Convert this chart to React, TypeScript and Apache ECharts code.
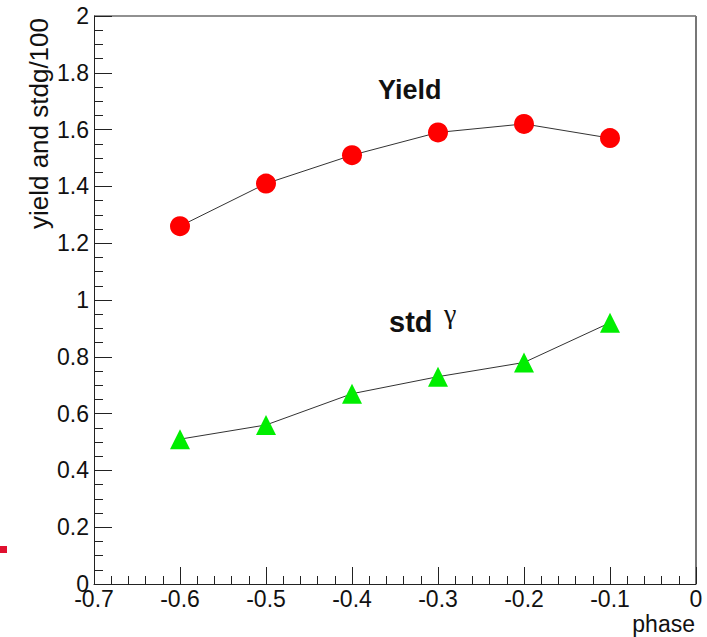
import React, { useEffect, useRef } from "react";
import * as echarts from "echarts";

const phases = [-0.6, -0.5, -0.4, -0.3, -0.2, -0.1];
const yieldValues = [1.26, 1.41, 1.51, 1.59, 1.62, 1.57];
const stdValues = [0.51, 0.56, 0.67, 0.73, 0.78, 0.92];
const yAxisTitle = "yield and stdg/100";
const xAxisTitle = "phase";

const FONT = "'Liberation Sans', Arial, Helvetica, sans-serif";

export default function App() {
  const ref = useRef<HTMLDivElement>(null);
  useEffect(() => {
    if (!ref.current) return;
    const chart = echarts.init(ref.current, null, { renderer: "svg" });
    const option: any = {
      animation: false,
      backgroundColor: "#fff",
      grid: {
        left: 94,
        top: 16,
        right: 11,
        bottom: 53,
        show: false,
      },
      xAxis: {
        type: "value",
        min: -0.7,
        max: 0,
        interval: 0.1,
        axisLine: { show: true, onZero: false, lineStyle: { color: "#222", width: 1 } },
        axisTick: { show: true, inside: true, length: 17, lineStyle: { color: "#222" } },
        minorTick: { show: true, splitNumber: 5, length: 8, lineStyle: { color: "#222" } },
        splitLine: { show: false },
        axisLabel: {
          color: "#111",
          fontFamily: FONT,
          fontSize: 23,
          margin: 3,
          formatter: (v: number) => {
            const r = Math.round(v * 10) / 10;
            return r === 0 ? "0" : String(r);
          },
        },
      },
      yAxis: {
        type: "value",
        min: 0,
        max: 2,
        interval: 0.2,
        axisLine: { show: true, onZero: false, lineStyle: { color: "#222", width: 1 } },
        axisTick: { show: true, inside: true, length: 18, lineStyle: { color: "#222" } },
        minorTick: { show: true, splitNumber: 4, length: 9, lineStyle: { color: "#222" } },
        splitLine: { show: false },
        axisLabel: {
          color: "#111",
          fontFamily: FONT,
          fontSize: 23,
          margin: 5,
          formatter: (v: number) => String(Math.round(v * 10) / 10),
        },
      },
      series: [
        {
          type: "line",
          data: phases.map((p, i) => [p, yieldValues[i]]),
          symbol: "circle",
          symbolSize: 20,
          itemStyle: { color: "#ff0000" },
          lineStyle: { color: "#333", width: 1 },
          z: 3,
        },
        {
          type: "line",
          data: phases.map((p, i) => [p, stdValues[i]]),
          symbol: "triangle",
          symbolSize: 20,
          itemStyle: { color: "#00ee00" },
          lineStyle: { color: "#333", width: 1 },
          z: 3,
        },
      ],
      graphic: [
        {
          type: "line",
          shape: { x1: 94, y1: 16, x2: 696, y2: 16 },
          style: { stroke: "#222", lineWidth: 1 },
        },
        {
          type: "line",
          shape: { x1: 696, y1: 16, x2: 696, y2: 584 },
          style: { stroke: "#777", lineWidth: 2 },
        },
        {
          type: "text",
          x: 39,
          y: 18,
          rotation: Math.PI / 2,
          style: {
            text: yAxisTitle,
            font: `26px ${FONT}`,
            fill: "#111",
            textAlign: "right",
            textVerticalAlign: "middle",
          },
        },
        {
          type: "text",
          x: 695,
          y: 624,
          style: {
            text: xAxisTitle,
            font: `23px ${FONT}`,
            fill: "#111",
            textAlign: "right",
            textVerticalAlign: "middle",
          },
        },
        {
          type: "text",
          x: 378,
          y: 90,
          style: {
            text: "Yield",
            font: `bold 27px ${FONT}`,
            fill: "#111",
            textAlign: "left",
            textVerticalAlign: "middle",
          },
        },
        {
          type: "text",
          x: 389,
          y: 322,
          style: {
            text: "std",
            font: `bold 29px ${FONT}`,
            fill: "#111",
            textAlign: "left",
            textVerticalAlign: "middle",
          },
        },
        {
          type: "text",
          x: 444,
          y: 313,
          style: {
            text: "γ",
            font: `28px 'Liberation Serif', 'DejaVu Serif', serif`,
            fill: "#111",
            textAlign: "left",
            textVerticalAlign: "middle",
          },
        },
        {
          type: "rect",
          shape: { x: 0, y: 546, width: 7, height: 7 },
          style: { fill: "#e0102f" },
        },
      ],
    };
    chart.setOption(option);
    return () => chart.dispose();
  }, []);
  return <div ref={ref} style={{ width: 707, height: 637, position: "absolute", left: 0, top: 0 }} />;
}
